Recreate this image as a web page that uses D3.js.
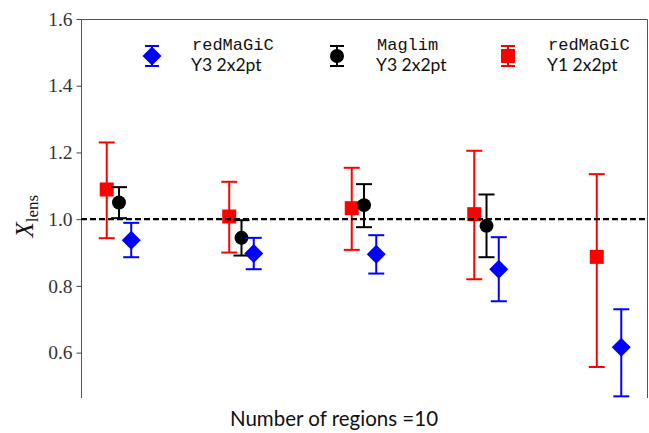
<!DOCTYPE html>
<html>
<head>
<meta charset="utf-8">
<script src="https://cdn.jsdelivr.net/npm/d3@7"></script>
<style>
  html, body { margin: 0; padding: 0; background: #fff; }
  svg { display: block; }
</style>
</head>
<body>
<svg id="chart" width="649" height="433"></svg>
<script>
// Lens-bias amplitude X_lens for each of 5 lens bins (Number of regions = 10)
const bins = [1, 2, 3, 4, 5];

// redMaGiC Y3 2x2pt (blue diamonds)
const rmY3Val = [0.937, 0.897, 0.895, 0.850, 0.616];
const rmY3Lo  = [0.886, 0.850, 0.837, 0.754, 0.469];
const rmY3Hi  = [0.989, 0.944, 0.952, 0.946, 0.730];

// Maglim Y3 2x2pt (black circles), no fifth bin
const mlY3Val = [1.050, 0.944, 1.042, 0.980];
const mlY3Lo  = [1.003, 0.891, 0.976, 0.886];
const mlY3Hi  = [1.096, 0.997, 1.105, 1.074];

// redMaGiC Y1 2x2pt (red squares)
const rmY1Val = [1.089, 1.008, 1.033, 1.015, 0.887];
const rmY1Lo  = [0.943, 0.900, 0.908, 0.820, 0.557];
const rmY1Hi  = [1.230, 1.112, 1.154, 1.205, 1.135];

const yTicks = [0.6, 0.8, 1.0, 1.2, 1.4, 1.6];

const series = [
  { key: "rmY1", line1: "redMaGiC", line2: "Y1 2x2pt", color: "#ff0000", shape: "square",
    offset: -0.1, val: rmY1Val, lo: rmY1Lo, hi: rmY1Hi },
  { key: "mlY3", line1: "Maglim", line2: "Y3 2x2pt", color: "#000000", shape: "circle",
    offset: 0.0, val: mlY3Val, lo: mlY3Lo, hi: mlY3Hi },
  { key: "rmY3", line1: "redMaGiC", line2: "Y3 2x2pt", color: "#0000ff", shape: "diamond",
    offset: 0.1, val: rmY3Val, lo: rmY3Lo, hi: rmY3Hi }
];
const legendOrder = ["rmY3", "mlY3", "rmY1"];

const svg = d3.select("#chart");
const plotLeft = 81, plotRight = 647, plotTop = 19, plotBottom = 398;

const x = d3.scaleLinear().domain([0.69, 5.31]).range([plotLeft, plotRight]);
const y = d3.scaleLinear().domain([0.464, 1.6]).range([plotBottom, plotTop]);

const serif = "'Liberation Serif', 'DejaVu Serif', serif";
const sans = "Lato, 'Open Sans', 'DejaVu Sans', sans-serif";
const mono = "'Liberation Mono', 'DejaVu Sans Mono', monospace";

// frame: left, top and right spines
svg.append("path")
  .attr("d", `M${plotLeft + 0.5},${plotBottom} V${plotTop + 0.5} H${plotRight + 0.5} V${plotBottom}`)
  .attr("stroke", "#555").attr("stroke-width", 1).attr("fill", "none");

// y axis
const yAxis = svg.append("g")
  .attr("transform", `translate(${plotLeft + 0.5},0)`)
  .call(d3.axisLeft(y).tickValues(yTicks).tickFormat(d3.format(".1f")).tickSize(5).tickPadding(4));
yAxis.select(".domain").remove();
yAxis.attr("font-family", null).attr("font-size", null);
yAxis.selectAll(".tick line").attr("stroke", "#444");
yAxis.selectAll(".tick text")
  .style("font-family", serif).style("font-size", "19.5px").attr("fill", "#333");

// y label: X_lens
const yl = svg.append("text")
  .attr("transform", `translate(33,${y(1.0) - 3}) rotate(-90)`)
  .attr("text-anchor", "middle")
  .style("font-family", serif)
  .attr("fill", "#111");
yl.append("tspan").style("font-style", "italic").style("font-size", "25px").text("X");
yl.append("tspan").style("font-size", "17px").attr("dy", 5).text("lens");

// x label
svg.append("text")
  .attr("x", 334).attr("y", 426)
  .attr("text-anchor", "middle")
  .style("font-family", sans).style("font-size", "20.5px").attr("fill", "#111")
  .text("Number of regions =10");

// marker shapes
function marker(g, shape, color, cx, cy) {
  if (shape === "square") {
    g.append("rect").attr("x", cx - 7).attr("y", cy - 7).attr("width", 14).attr("height", 14).attr("fill", color);
  } else if (shape === "circle") {
    g.append("circle").attr("cx", cx).attr("cy", cy).attr("r", 7).attr("fill", color);
  } else {
    g.append("path")
      .attr("d", `M${cx},${cy - 9.5} L${cx + 9.5},${cy} L${cx},${cy + 9.5} L${cx - 9.5},${cy} Z`)
      .attr("fill", color);
  }
}

function errorbar(g, color, cx, y0, y1, cap) {
  g.append("line").attr("x1", cx).attr("x2", cx).attr("y1", y0).attr("y2", y1)
    .attr("stroke", color).attr("stroke-width", 2);
  [y0, y1].forEach(yy => g.append("line")
    .attr("x1", cx - cap).attr("x2", cx + cap).attr("y1", yy).attr("y2", yy)
    .attr("stroke", color).attr("stroke-width", 2));
}

// data points with error bars
const plot = svg.append("g");
series.forEach(s => {
  const g = plot.append("g").attr("class", s.key);
  s.val.forEach((v, i) => {
    const cx = x(bins[i] + s.offset);
    errorbar(g, s.color, cx, y(s.lo[i]), y(s.hi[i]), 8);
    marker(g, s.shape, s.color, cx, y(v));
  });
});

// reference line at X_lens = 1
svg.append("line")
  .attr("x1", plotLeft).attr("x2", plotRight).attr("y1", y(1.0)).attr("y2", y(1.0))
  .attr("stroke", "#000").attr("stroke-width", 2.2).attr("stroke-dasharray", "6,3");

// legend
const legendX = [152, 337, 508];
const legendY = 56;
legendOrder.forEach((k, i) => {
  const s = series.find(d => d.key === k);
  const g = svg.append("g");
  const cx = legendX[i];
  errorbar(g, s.color, cx, legendY - 10, legendY + 10, 7);
  marker(g, s.shape, s.color, cx, legendY);
  g.append("text").attr("x", cx + 40).attr("y", 50)
    .style("font-family", mono).style("font-size", "17px").attr("fill", "#111").text(s.line1);
  g.append("text").attr("x", cx + 39).attr("y", 71)
    .style("font-family", sans).style("font-size", "17.5px").attr("fill", "#111").text(s.line2);
});
</script>
</body>
</html>
